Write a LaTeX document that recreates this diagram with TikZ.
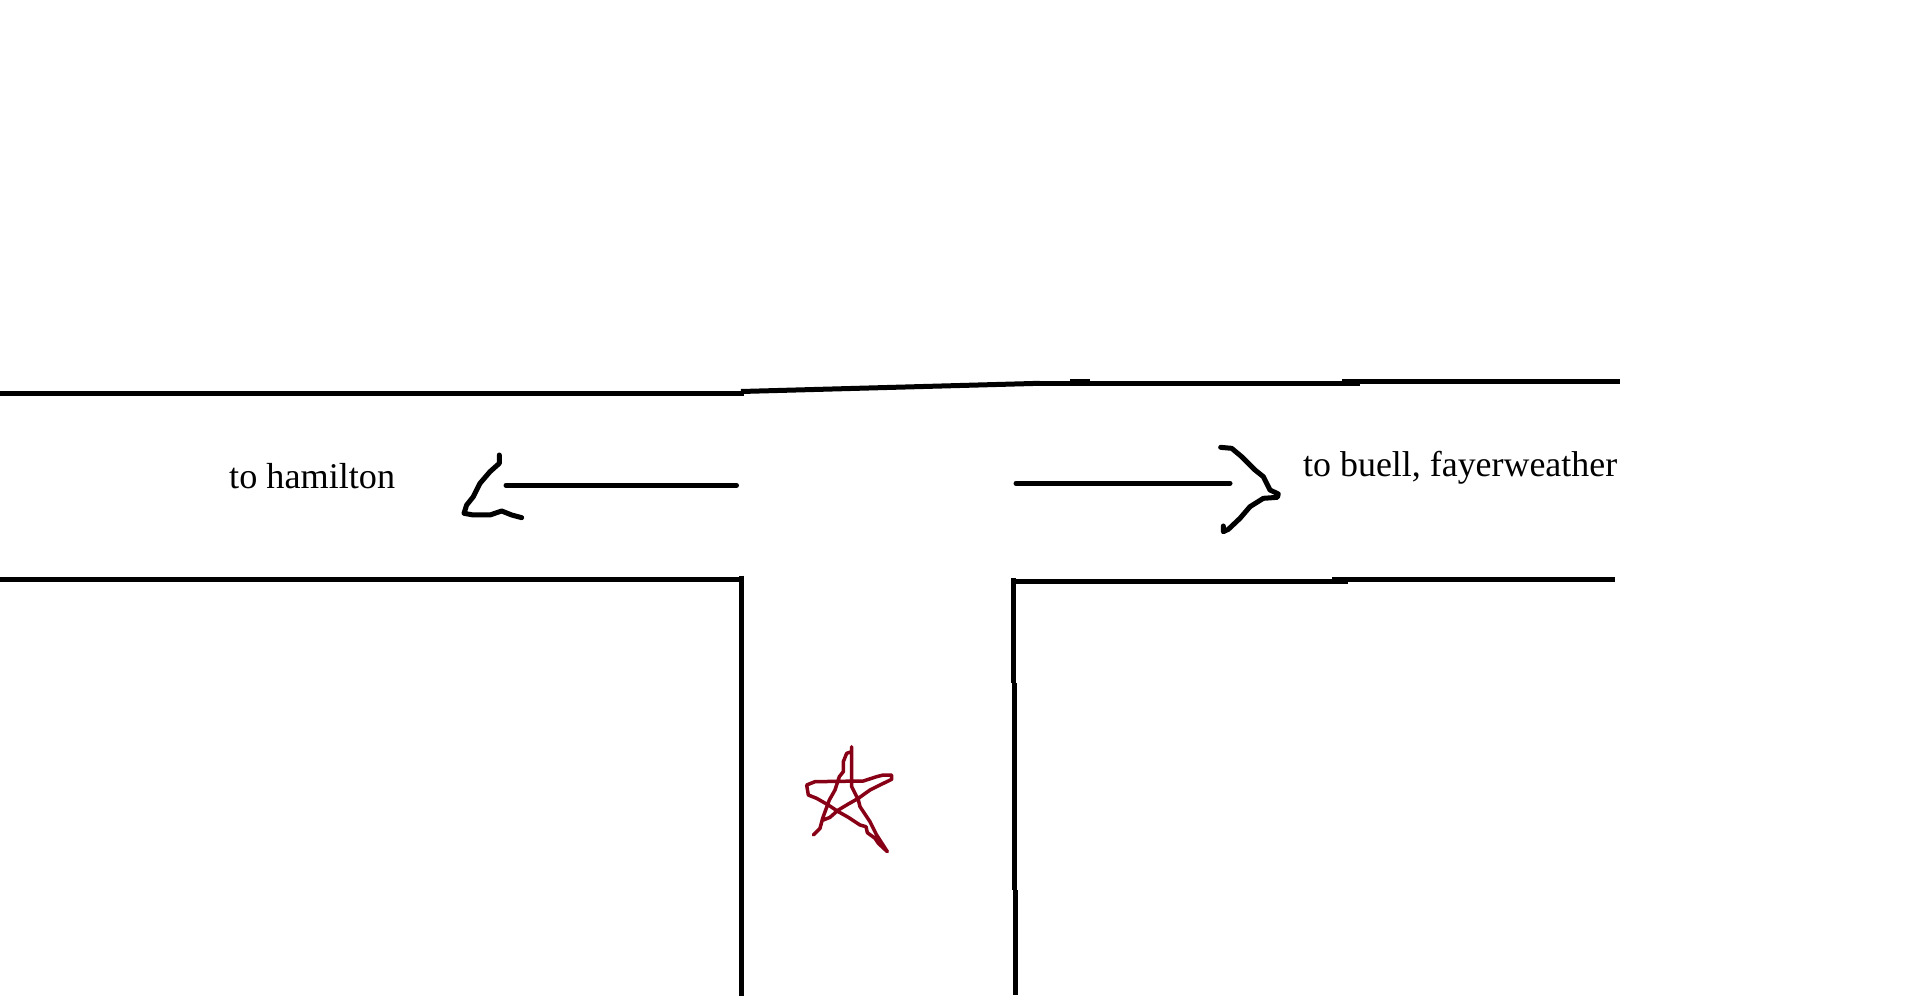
\documentclass[tikz,border=0pt]{standalone}
\usepackage{fontspec}
\setmainfont{Liberation Serif}
\definecolor{starred}{HTML}{880015}
\tikzset{
  road/.style={draw=black,line width=5pt,line cap=butt},
  pen/.style={draw=black,line width=5pt,line cap=round,line join=round},
  starpen/.style={draw=starred,line width=3.5pt,line cap=round,line join=round},
  label/.style={text=black,inner sep=0pt,anchor=base west}
}
\begin{document}
\begin{tikzpicture}[x=1pt,y=-1pt]
\useasboundingbox (0,0) rectangle (1920,996);
\fill[white] (0,0) rectangle (1920,996);
% top edge
\draw[road] (0,393.3) -- (744,393.3);
\draw[road] (741,391.5) -- (1040,383.3);
\draw[road] (1040,383.3) -- (1360,383.3);
\draw[road] (1070,381.5) -- (1090,381.5);
\draw[road] (1342,381.5) -- (1620,381.5);
% bottom edge, left
\draw[road] (0,579.3) -- (744,579.3);
\draw[road] (741.7,575.5) -- (741.7,996);
% bottom edge, right
\draw[road] (1011,581.3) -- (1348,581.3);
\draw[road] (1332,579.3) -- (1615,579.3);
\draw[road] (1013.3,578) -- (1013.3,683);
\draw[road] (1014.4,683) -- (1014.4,890);
\draw[road] (1015.7,890) -- (1015.7,995);
% arrows
\draw[pen] (506,485.3) -- (736.5,485.3);
\begin{scope}[shift={(440,430)},x=.3333pt,y=-.3333pt]
\draw[pen] (178,75) -- (178,100) -- (150,125) -- (120,160) -- (100,200) -- (80,225) -- (72,250) -- (100,255) -- (150,255) -- (185,243) -- (215,255) -- (245,263);
\end{scope}
\draw[pen] (1016,483.3) -- (1230,483.3);
\begin{scope}[shift={(1200,420)},x=.3333pt,y=-.3333pt]
\draw[pen] (62,82) -- (95,85) -- (125,110) -- (165,150) -- (190,170) -- (210,210) -- (235,222) -- (232,232) -- (190,235) -- (150,260) -- (120,295) -- (85,328) -- (70,335) -- (70,318);
\end{scope}
% star
\begin{scope}[shift={(780,730)},x=.3333pt,y=-.3333pt]
\draw[starpen] (100,315) -- (120,295) -- (128,265) -- (148,210) -- (165,180) -- (178,140) -- (190,125) -- (190,95) -- (200,70) -- (215,65) -- (215,50) -- (215,170) -- (235,210) -- (240,230) -- (270,275) -- (290,315) -- (322,365) -- (295,340) -- (285,325) -- (262,308) -- (258,290) -- (240,285) -- (205,262) -- (175,245) -- (145,225) -- (110,205) -- (85,195) -- (80,165) -- (105,155) -- (250,153) -- (290,140) -- (310,135) -- (335,135) -- (335,148) -- (300,165) -- (270,180) -- (235,205) -- (205,222) -- (175,240) -- (150,262) -- (130,270);
\end{scope}
% labels
\node[label,font=\fontsize{36.2}{40}\selectfont] (hamilton) at (229,488.3) {to hamilton};
\node[label,font=\fontsize{35.9}{40}\selectfont] (buell) at (1303,476) {to buell, fayerweather};
\end{tikzpicture}
\end{document}
